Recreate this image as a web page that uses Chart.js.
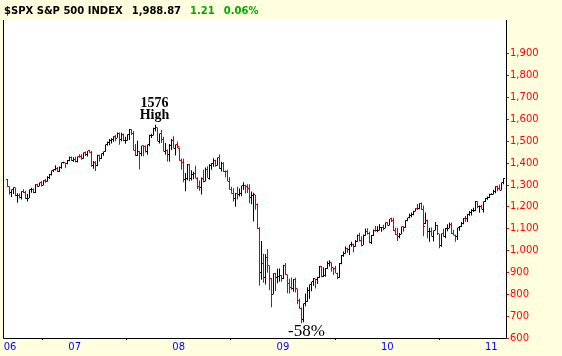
<!DOCTYPE html>
<html>
<head>
<meta charset="utf-8">
<script src="https://cdn.jsdelivr.net/npm/chart.js@4.4.1/dist/chart.umd.min.js"></script>
<style>
  html, body { margin: 0; padding: 0; background: #FFFFE0; }
  canvas { display: block; }
</style>
</head>
<body>
<canvas id="c" width="562" height="356"></canvas>
<script>
// Weekly S&P 500 bars, week ending 12 May 2006 ... 11 Feb 2011 (index = week number)
const opens = [
  1326,1291,1267,1280,1288,1252,1252,1245,1270,1265,
  1236,1240,1279,1279,1267,1302,1295,1311,1299,1320,
  1315,1336,1350,1366,1369,1377,1364,1381,1401,1401,
  1397,1410,1427,1411,
  1418,1409,1431,1430,1423,1449,
  1438,1456,1451,1387,1402,1387,1437,1421,1444,1453,
  1484,1495,1505,1506,1522,1515,1536,1507,1533,1503,
  1503,1530,1553,1534,1459,1433,1454,1445,1479,1474,
  1454,1484,1525,1527,1557,1562,1501,1535,1509,1453,
  1458,1440,1481,1504,1468,1484,
  1468,1411,1401,1325,
  1331,1395,1331,1349,1353,1331,1294,1289,1330,1316,
  1370,1332,1390,1398,1414,1389,1426,1375,1400,1361,
  1360,1318,1278,1262,1240,1261,1258,1260,1296,1298,
  1292,1283,1242,1252,1255,1213,1099,899,940,877,
  968,930,873,800,896,876,880,887,
  873,932,
  890,850,832,826,869,826,770,735,683,757,
  769,816,843,857,870,866,877,929,882,887,
  919,940,946,921,918,896,879,940,979,987,
  1010,1005,1026,1029,1017,1042,1068,1045,1025,1071,
  1087,1080,1036,1069,1093,1091,1092,1106,1106,1102,
  1127,
  1115,1145,1136,1092,1074,1066,1075,1109,1104,
  1139,1150,1159,1167,1179,1194,1192,1217,1187,1122,
  1136,1088,1089,1065,1092,1117,1076,1022,1078,1065,
  1102,1102,1121,1079,1071,1065,1104,1110,1126,1149,
  1146,1166,1176,1183,1184,1225,1200,1200,1189,1225,
  1240,1244,1256,
  1258,1272,1293,1283,1276,1311
];
const highs = [
  1327,1294,1280,1290,1289,1262,1261,1272,1281,1274,
  1259,1280,1287,1284,1303,1306,1312,1318,1322,1328,
  1340,1350,1366,1372,1390,1382,1385,1403,1406,1402,
  1415,1431,1430,1427,
  1429,1431,1441,1441,1449,1453,
  1456,1461,1456,1410,1409,1438,1439,1444,1453,1485,
  1499,1510,1514,1523,1530,1540,1540,1539,1534,1521,
  1532,1556,1556,1547,1488,1503,1456,1480,1482,1481,
  1485,1530,1535,1562,1576,1563,1536,1552,1521,1492,
  1463,1488,1510,1523,1485,1499,
  1472,1421,1420,1355,
  1396,1396,1368,1361,1388,1336,1321,1334,1370,1380,
  1386,1395,1399,1422,1416,1426,1440,1406,1404,1366,
  1370,1335,1292,1285,1263,1292,1284,1297,1313,1301,
  1303,1304,1270,1265,1255,1215,1107,1044,986,984,
  1007,932,874,896,897,917,918,888,
  935,943,
  891,871,877,870,876,827,780,740,758,804,
  832,845,857,875,871,880,930,930,924,920,
  951,956,946,922,931,898,943,980,996,1019,
  1013,1027,1040,1031,1048,1074,1081,1066,1073,1101,
  1102,1086,1071,1097,1113,1111,1120,1108,1118,1128,
  1130,
  1145,1150,1150,1104,1104,1080,1110,1113,1139,
  1150,1170,1174,1182,1194,1213,1217,1220,1206,1174,
  1141,1104,1106,1092,1131,1118,1077,1078,1100,1103,
  1120,1128,1129,1095,1073,1105,1112,1131,1149,1158,
  1167,1181,1189,1196,1227,1226,1206,1208,1225,1241,
  1247,1260,1262,
  1278,1294,1297,1302,1311,1331
];
const lows = [
  1291,1256,1245,1259,1249,1219,1238,1234,1263,1236,
  1224,1240,1265,1262,1263,1290,1294,1293,1298,1310,
  1315,1327,1344,1360,1366,1360,1360,1374,1398,1378,
  1395,1409,1410,1406,
  1404,1403,1425,1416,1420,1433,
  1431,1448,1384,1374,1364,1386,1408,1419,1434,1452,
  1480,1482,1490,1498,1500,1516,1484,1500,1500,1489,
  1503,1506,1529,1458,1433,1433,1371,1432,1432,1449,
  1439,1477,1515,1527,1546,1500,1490,1492,1453,1440,
  1408,1407,1460,1467,1435,1468,
  1411,1370,1313,1271,
  1322,1317,1321,1326,1330,1282,1274,1257,1312,1316,
  1332,1324,1370,1384,1384,1389,1373,1362,1360,1335,
  1317,1278,1260,1225,1200,1234,1248,1249,1278,1261,
  1263,1217,1212,1133,1187,1099,839,866,853,845,
  899,818,741,800,815,851,857,857,
  870,888,
  805,804,821,812,808,754,734,667,672,745,
  766,780,814,839,826,847,875,878,879,880,
  916,927,903,888,896,869,876,938,972,985,
  990,980,1017,991,1017,1040,1041,1020,1025,1068,
  1074,1033,1030,1067,1086,1084,1092,1086,1093,1102,
  1115,
  1115,1131,1090,1071,1044,1056,1075,1086,1104,
  1134,1147,1153,1162,1179,1186,1189,1186,1066,1122,
  1056,1040,1064,1043,1092,1071,1011,1018,1063,1056,
  1088,1102,1076,1069,1040,1048,1091,1108,1121,1132,
  1131,1159,1160,1177,1180,1194,1173,1189,1174,1222,
  1233,1240,1254,
  1257,1262,1272,1276,1276,1303
];
const closes = [
  1291,1267,1280,1288,1252,1252,1245,1270,1265,1236,
  1240,1279,1279,1267,1302,1295,1311,1299,1320,1315,
  1336,1350,1366,1369,1377,1364,1381,1401,1401,1397,
  1410,1427,1411,1418,
  1409,1431,1430,1423,1449,1438,
  1456,1451,1387,1402,1387,1437,1421,1444,1453,1484,
  1495,1505,1506,1522,1515,1536,1507,1533,1503,1503,
  1530,1553,1534,1459,1433,1454,1445,1479,1474,1454,
  1484,1525,1527,1557,1562,1501,1535,1509,1453,1458,
  1440,1481,1504,1468,1484,1478,
  1411,1401,1325,1331,
  1395,1331,1349,1353,1331,1294,1289,1330,1316,1370,
  1332,1390,1398,1414,1389,1426,1375,1400,1361,1360,
  1318,1278,1262,1240,1261,1258,1260,1296,1298,1292,
  1283,1242,1252,1255,1213,1099,899,940,877,968,
  930,873,800,896,876,880,887,873,
  932,890,
  850,832,826,869,826,770,735,683,757,769,
  816,843,857,870,866,877,929,882,887,919,
  940,946,921,918,896,879,940,979,987,1010,
  1005,1026,1029,1017,1042,1068,1045,1025,1071,1087,
  1080,1036,1069,1093,1091,1092,1106,1106,1102,1127,
  1115,
  1145,1136,1092,1074,1066,1075,1109,1104,1139,
  1150,1159,1167,1179,1194,1192,1217,1187,1111,1136,
  1088,1089,1065,1092,1117,1076,1022,1078,1065,1102,
  1102,1121,1079,1071,1065,1104,1110,1126,1149,1146,
  1166,1176,1183,1184,1225,1200,1200,1189,1225,1240,
  1244,1256,1258,
  1272,1293,1283,1276,1311,1329
];

// Axis ticks
const yearLabels = ['06', '07', '08', '09', '10', '11'];
const yearTickWeeks = [1.3, 33.6, 85.6, 137.7, 189.9, 241.9];
const priceTicks = [600, 700, 800, 900, 1000, 1100, 1200, 1300, 1400, 1500, 1600, 1700, 1800, 1900];

// Header texts
const headerParts = [
  { text: '$SPX S&P 500 INDEX', color: '#000000' },
  { text: '1,988.87', color: '#000000' },
  { text: '1.21', color: '#00AA00' },
  { text: '0.06%', color: '#00AA00' }
];
const highWord = 'High';

const UP = '#000000', DOWN = '#D00000';
const isUp = i => closes[i] >= opens[i];

function tickImg(color, left) {
  const c = document.createElement('canvas');
  c.width = 3; c.height = 1;
  const g = c.getContext('2d');
  g.fillStyle = color;
  g.fillRect(left ? 0 : 2, 0, 1, 1);
  return c;
}
const openUp = tickImg(UP, true), openDn = tickImg(DOWN, true);
const closeUp = tickImg(UP, false), closeDn = tickImg(DOWN, false);

const framePlugin = {
  id: 'frame',
  beforeDraw(chart) {
    const { ctx, chartArea: a, width, height } = chart;
    ctx.save();
    ctx.fillStyle = '#FFFFE0';
    ctx.fillRect(0, 0, width, height);
    ctx.fillStyle = '#FFFFFF';
    ctx.fillRect(a.left, a.top, a.right - a.left, a.bottom - a.top);
    ctx.restore();
  },
  beforeDatasetsDraw(chart) { chart.ctx.imageSmoothingEnabled = false; },
  afterDatasetsDraw(chart) { chart.ctx.imageSmoothingEnabled = true; },
  afterDraw(chart) {
    const { ctx, chartArea: a } = chart;
    ctx.save();
    ctx.strokeStyle = '#000000';
    ctx.lineWidth = 1;
    ctx.beginPath();
    ctx.moveTo(a.left - 0.5, a.top);
    ctx.lineTo(a.left - 0.5, a.bottom + 0.5);
    ctx.lineTo(a.right - 0.5, a.bottom + 0.5);
    ctx.lineTo(a.right - 0.5, a.top);
    ctx.stroke();
    // header line
    ctx.font = 'bold 10px "DejaVu Sans"';
    ctx.textBaseline = 'alphabetic';
    ctx.textAlign = 'left';
    let x = 4;
    headerParts.forEach(p => {
      ctx.fillStyle = p.color;
      ctx.fillText(p.text, x, 14);
      x += ctx.measureText(p.text).width + 9;
    });
    ctx.restore();
  }
};

const notePlugin = {
  id: 'notes',
  afterDatasetsDraw(chart) {
    const { ctx, scales } = chart;
    const hi = Math.max(...highs), hiIdx = highs.indexOf(hi);
    const lo = Math.min(...lows), loIdx = lows.indexOf(lo);
    const hx = scales.x.getPixelForValue(hiIdx), hy = scales.y.getPixelForValue(hi);
    const lx = scales.x.getPixelForValue(loIdx), ly = scales.y.getPixelForValue(lo);
    ctx.save();
    ctx.fillStyle = '#000000';
    ctx.textAlign = 'center';
    ctx.textBaseline = 'alphabetic';
    ctx.font = 'bold 14px "Liberation Serif"';
    ctx.fillText(String(Math.round(hi)), hx - 1, hy - 18);
    ctx.fillText(highWord, hx - 1, hy - 6);
    ctx.font = '17px "Liberation Serif"';
    ctx.fillText(Math.round((lo / hi - 1) * 100) + '%', lx + 5, ly + 13);
    ctx.restore();
  }
};

Chart.defaults.font.family = '"DejaVu Sans"';

new Chart(document.getElementById('c'), {
  type: 'bar',
  data: {
    datasets: [
      {
        type: 'bar',
        data: highs.map((h, i) => ({ x: i, y: [lows[i], h] })),
        backgroundColor: opens.map((o, i) => isUp(i) ? UP : DOWN),
        borderWidth: 0,
        barThickness: 1,
        inflateAmount: 0
      },
      {
        type: 'scatter',
        data: opens.map((o, i) => ({ x: i, y: o })),
        pointStyle: c => (c.dataIndex === undefined || isUp(c.dataIndex)) ? openUp : openDn,
        pointRadius: 1,
        pointHoverRadius: 1
      },
      {
        type: 'scatter',
        data: closes.map((cl, i) => ({ x: i, y: cl })),
        pointStyle: c => (c.dataIndex === undefined || isUp(c.dataIndex)) ? closeUp : closeDn,
        pointRadius: 1,
        pointHoverRadius: 1
      }
    ]
  },
  options: {
    responsive: false,
    animation: false,
    events: [],
    layout: { padding: { left: 4, top: 20, right: 0, bottom: 0 } },
    plugins: { legend: { display: false }, tooltip: { enabled: false } },
    scales: {
      x: {
        type: 'linear',
        min: -1.75,
        max: 249.75,
        offset: false,
        afterFit: s => { s.height = 18; s.paddingLeft = 0; s.paddingRight = 0; },
        afterBuildTicks: s => { s.ticks = yearTickWeeks.map(v => ({ value: v })); },
        grid: { display: true, drawOnChartArea: false, drawTicks: true, tickLength: 2, color: '#000000' },
        border: { display: false },
        ticks: {
          color: '#0000FF',
          font: { size: 10 },
          padding: 1,
          autoSkip: false,
          maxRotation: 0,
          callback: (v, i) => yearLabels[i]
        }
      },
      y: {
        type: 'linear',
        position: 'right',
        min: 600,
        max: 2055,
        afterFit: s => { s.width = 55; s.paddingTop = 0; s.paddingBottom = 0; },
        afterBuildTicks: s => { s.ticks = priceTicks.map(v => ({ value: v })); },
        grid: { display: true, drawOnChartArea: false, drawTicks: true, tickLength: 2, color: '#FF0000' },
        border: { display: false },
        ticks: {
          color: '#FF0000',
          font: { size: 10 },
          padding: 1,
          autoSkip: false,
          callback: v => v.toLocaleString('en-US')
        }
      }
    }
  },
  plugins: [framePlugin, notePlugin]
});
</script>
</body>
</html>
